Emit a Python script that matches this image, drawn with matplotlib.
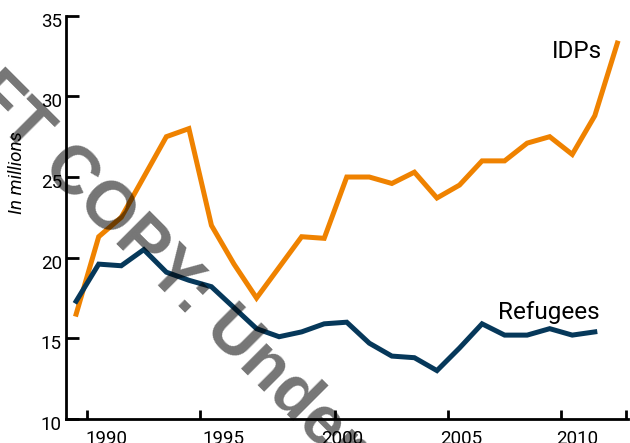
import matplotlib.pyplot as plt
from matplotlib.transforms import ScaledTranslation

# data (millions of people)
years_idp = list(range(1989, 2014))
idps = [16.5, 21.3, 22.5, 25.0, 27.5, 28.0, 22.0, 19.6, 17.5, 19.4, 21.3, 21.2,
        25.0, 25.0, 24.6, 25.3, 23.7, 24.5, 26.0, 26.0, 27.1, 27.5, 26.4, 28.8, 33.3]
years_ref = list(range(1989, 2013))
refugees = [17.3, 19.6, 19.5, 20.5, 19.1, 18.6, 18.2, 16.9, 15.6, 15.1, 15.4, 15.9,
            16.0, 14.7, 13.9, 13.8, 13.0, 14.4, 15.9, 15.2, 15.2, 15.6, 15.2, 15.4]

# axis ticks: the tick marks and the year labels do not sit at the same spots
tick_marks = [1989.5, 1994.5, 2000.5, 2005.5, 2010.5, 2013.4]
label_pos = [1990.33, 1995.55, 2000.8, 2006.07, 2011.2]
label_txt = ['1990', '1995', '2000', '2005', '2010']
y_ticks = [10, 15, 20, 25, 30, 35]

orange = '#ef8200'
navy = '#06385a'

plt.rcParams['font.family'] = ['Roboto', 'DejaVu Sans']

fig = plt.figure(figsize=(6.3, 4.43), dpi=100)
ax = fig.add_axes([66 / 630, 24 / 443, 561.5 / 630, 403.3 / 443])

ax.plot(years_idp, idps, color=orange, lw=3.6, solid_joinstyle='miter')
ax.plot(years_ref, refugees, color=navy, lw=3.6, solid_joinstyle='miter')

ax.set_xlim(1988.55, 2013.45)
ax.set_ylim(10, 35)

ax.spines['top'].set_visible(False)
ax.spines['right'].set_visible(False)
ax.spines['left'].set_linewidth(2)
ax.spines['bottom'].set_linewidth(2)

ax.set_yticks(y_ticks)
ax.set_yticklabels([str(v) for v in y_ticks], fontsize=13.5)
ax.tick_params(axis='y', direction='in', length=9.5, width=2, pad=3)
# y labels sit a bit lower than their ticks
shift = ScaledTranslation(0, -0.04, fig.dpi_scale_trans)
for lab in ax.get_yticklabels():
    lab.set_transform(lab.get_transform() + shift)

ax.set_xticks(label_pos)
ax.set_xticklabels(label_txt, fontsize=13.5)
ax.set_xticks(tick_marks, minor=True)
ax.tick_params(axis='x', which='major', length=0, pad=8)
ax.tick_params(axis='x', which='minor', direction='in', length=6.5, width=2)

ax.text(-0.088, 0.61, 'In millions', transform=ax.transAxes, rotation=90,
        ha='center', va='center', fontsize=13.5, style='italic')

# series labels
ax.text(2012.32, 32.4, 'IDPs', ha='right', va='baseline', fontsize=17.5)
ax.text(2007.7, 16.2, 'Refugees', ha='left', va='baseline', fontsize=17.5)

# draft watermark across the plot
fig.text(-0.216, 1.019, 'DRAFT COPY: Under Review', rotation=-45, rotation_mode='anchor',
         ha='left', va='baseline', fontsize=49, fontweight='bold',
         family='Liberation Sans', color='black', alpha=0.54)

fig.savefig('out.png', dpi=100)
